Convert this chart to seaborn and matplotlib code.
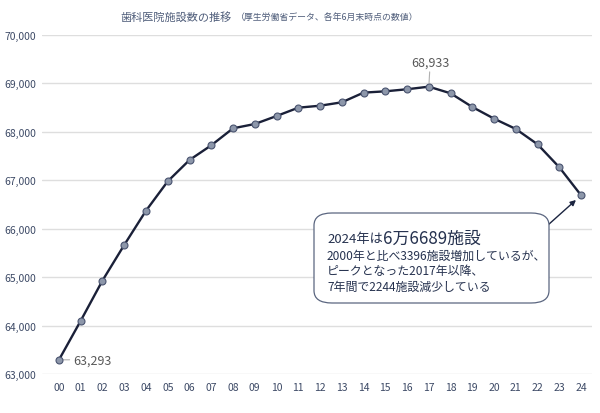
import matplotlib
matplotlib.use("Agg")
import matplotlib.pyplot as plt
import seaborn as sns
import pandas as pd
from matplotlib.patches import FancyBboxPatch
from matplotlib.text import Annotation
from matplotlib.ticker import FuncFormatter

years = ["00", "01", "02", "03", "04", "05", "06", "07", "08", "09", "10", "11",
         "12", "13", "14", "15", "16", "17", "18", "19", "20", "21", "22", "23", "24"]
clinics = [63293, 64100, 64930, 65665, 66372, 66979, 67419, 67722, 68073, 68162,
           68327, 68499, 68540, 68610, 68810, 68837, 68880, 68933, 68796, 68513,
           68272, 68059, 67742, 67267, 66689]
yticks = [63000, 64000, 65000, 66000, 67000, 68000, 69000, 70000]

title_main = "歯科医院施設数の推移"
title_sub = "（厚生労働省データ、各年6月末時点の数値）"
note_l1a = "2024年は"
note_l1b = "6万6689施設"
note_rest = ["2000年と比べ3396施設増加しているが、",
             "ピークとなった2017年以降、",
             "7年間で2244施設減少している"]

sns.set_theme(style="white")
plt.rcParams['font.family'] = ['Noto Sans CJK JP', 'DejaVu Sans']

df = pd.DataFrame({"idx": range(len(years)), "year": years, "n": clinics})

fig = plt.figure(figsize=(6, 4.14), dpi=100)
ax = fig.add_axes([42 / 600, 39 / 414, 550 / 600, 339 / 414])

line_c = "#1a2038"
sns.lineplot(data=df, x="idx", y="n", ax=ax, color=line_c, linewidth=1.7,
             marker="o", markersize=5, markerfacecolor="#8d97aa",
             markeredgecolor="#4a5470", markeredgewidth=0.8, zorder=5)

ax.set_xlim(-0.78, 24.5)
ax.set_ylim(63000, 70000)
ax.set_yticks(yticks)
ax.yaxis.set_major_formatter(FuncFormatter(lambda v, p: f"{int(v):,}"))
ax.set_xticks(range(len(years)))
ax.set_xticklabels(years)
ax.tick_params(axis="both", length=0, labelsize=7.5, colors="#3d4a66")
ax.tick_params(axis="y", pad=4)
ax.tick_params(axis="x", pad=6)
ax.grid(axis="y", color="#dedede", linewidth=1)
ax.set_axisbelow(True)
for s in ax.spines.values():
    s.set_visible(False)
ax.set_xlabel("")
ax.set_ylabel("")

# Title
tcol = "#4f5d7a"
t1 = fig.text(120 / 600, 1 - 17 / 414, title_main, fontsize=8.0, color=tcol,
              ha="left", va="center")
fig.add_artist(Annotation(title_sub, xy=(1, 0.5), xycoords=t1, xytext=(3, 0),
                          textcoords="offset points", fontsize=6.4, color=tcol,
                          ha="left", va="center", annotation_clip=False))

# Data labels
lab_c = "#595959"
ax.annotate(f"{clinics[0]:,}", xy=(0, clinics[0]), xytext=(10, 0),
            textcoords="offset points", fontsize=9, color=lab_c,
            ha="left", va="center",
            arrowprops=dict(arrowstyle="-", color="#b0b0b0", lw=0.8,
                            shrinkA=0, shrinkB=3))
ax.annotate(f"{clinics[17]:,}", xy=(17, clinics[17]), xytext=(1, 13),
            textcoords="offset points", fontsize=9, color=lab_c,
            ha="center", va="bottom",
            arrowprops=dict(arrowstyle="-", color="#b0b0b0", lw=0.8,
                            shrinkA=0, shrinkB=3))

# Arrow from box to last point
ax.annotate("", xy=(24, clinics[24]), xycoords="data",
            xytext=(548 / 600, 1 - 226 / 414), textcoords="figure fraction",
            arrowprops=dict(arrowstyle="-|>", color="#1b2440", lw=1.0,
                            shrinkA=0, shrinkB=5, mutation_scale=8),
            zorder=12, annotation_clip=False)

# Note box
x0, x1 = 314 / 600, 549 / 600
y1, y0 = 1 - 214 / 414, 1 - 304 / 414
box = FancyBboxPatch((x0, y0), x1 - x0, y1 - y0,
                     boxstyle="round,pad=0,rounding_size=0.03",
                     transform=fig.transFigure, facecolor="white",
                     edgecolor="#5b6680", linewidth=0.9, zorder=10)
fig.patches.append(box)

ncol = "#26324f"
n1 = fig.text(327 / 600, 1 - 243 / 414, note_l1a, fontsize=9.5, color=ncol,
              ha="left", va="baseline", zorder=11)
fig.add_artist(Annotation(note_l1b, xy=(1, 0), xycoords=n1, xytext=(0, -1.5),
                          textcoords="offset points", fontsize=12.2, color=ncol,
                          ha="left", va="bottom", annotation_clip=False,
                          zorder=11))
for i, line in enumerate(note_rest):
    fig.text(327 / 600, 1 - (260 + i * 15.5) / 414, line, fontsize=8.6,
             color=ncol, ha="left", va="baseline", zorder=11)

fig.savefig("out.png", dpi=100)
